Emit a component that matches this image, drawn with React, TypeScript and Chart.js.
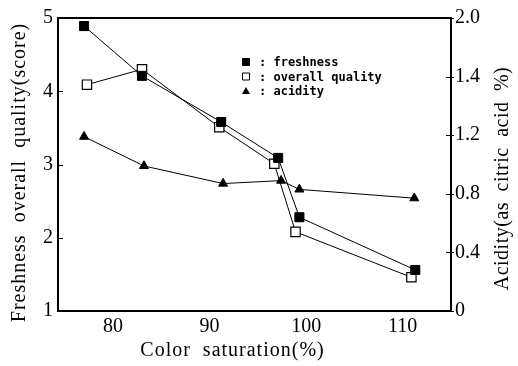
import React, { useEffect, useRef } from "react";
import { Chart, registerables } from "chart.js";

Chart.register(...registerables);

// ---- data ----
const saturationFresh = [77, 83, 91.2, 97.1, 99.3, 111.3];
const freshness = [4.89, 4.21, 3.58, 3.09, 2.28, 1.56];
const saturationQuality = [77.3, 83, 91, 96.7, 98.9, 110.9];
const overallQuality = [4.09, 4.3, 3.51, 3.01, 2.08, 1.46];
const saturationAcid = [77, 83.2, 91.4, 97.4, 99.3, 111.2];
const acidity = [1.19, 0.99, 0.87, 0.89, 0.83, 0.77];

const xTickValues = [80, 90, 100, 110];
const leftTickValues = [1, 2, 3, 4, 5];
const rightTickValues = [0, 0.4, 0.8, 1.2, 1.6, 2.0];
const rightTickLabels = ["0", "0.4", "0.8", "1.2", "1.4", "2.0"];
const seriesLabels = [": freshness", ": overall quality", ": acidity"];

const xTitle = "Color saturation(%)";
const leftTitle = "Freshness overall quality(score)";
const rightTitle = "Acidity(as citric acid %)";

const SERIF = "'Liberation Serif', 'DejaVu Serif', serif";
const MONO = "'DejaVu Sans Mono', 'Liberation Mono', monospace";

function drawTitle(
  ctx: any,
  text: string,
  x: number,
  y: number,
  rot: number,
  letter: number,
  word: number
) {
  ctx.save();
  ctx.translate(x, y);
  ctx.rotate(rot);
  ctx.font = "20px " + SERIF;
  ctx.fillStyle = "#000";
  ctx.textAlign = "center";
  ctx.textBaseline = "middle";
  try {
    ctx.letterSpacing = letter + "px";
    ctx.wordSpacing = word + "px";
  } catch (e) {}
  ctx.fillText(text, 0, 0);
  ctx.restore();
}

const framePlugin = {
  id: "frameAndLegend",
  afterDatasetsDraw(chart: any) {
    const { ctx, chartArea, scales } = chart;
    const { left, right, top, bottom } = chartArea;
    ctx.save();
    ctx.strokeStyle = "#000";
    ctx.lineWidth = 2;
    ctx.strokeRect(left, top, right - left, bottom - top);
    // inward ticks
    ctx.lineWidth = 1;
    ctx.beginPath();
    leftTickValues.forEach((v) => {
      const y = Math.round(scales.y.getPixelForValue(v)) + 0.5;
      ctx.moveTo(left, y);
      ctx.lineTo(left + 5, y);
    });
    rightTickValues.forEach((v) => {
      const y = Math.round(scales.y2.getPixelForValue(v)) + 0.5;
      ctx.moveTo(right - 5, y);
      ctx.lineTo(right + 3, y);
    });
    ctx.stroke();

    // legend inside plot
    const lx = left + 188;
    const ly = top + 44;
    const step = 14.5;
    ctx.font = "bold 12px " + MONO;
    ctx.textBaseline = "middle";
    ctx.textAlign = "left";
    ctx.fillStyle = "#000";
    chart.data.datasets.forEach((ds: any, i: number) => {
      const cy = ly + i * step;
      const cx = lx;
      ctx.beginPath();
      if (ds.pointStyle === "triangle") {
        ctx.moveTo(cx, cy - 4);
        ctx.lineTo(cx + 4, cy + 3);
        ctx.lineTo(cx - 4, cy + 3);
        ctx.closePath();
        ctx.fillStyle = "#000";
        ctx.fill();
      } else {
        ctx.rect(cx - 3.5, cy - 3.5, 7, 7);
        ctx.fillStyle = ds.pointBackgroundColor;
        ctx.fill();
        ctx.lineWidth = 1;
        ctx.strokeStyle = "#000";
        ctx.stroke();
      }
      ctx.fillStyle = "#000";
      ctx.fillText(ds.label, lx + 13, cy + 1);
    });
    ctx.restore();

    // axis titles
    const cxMid = (left + right) / 2;
    drawTitle(ctx, xTitle, cxMid - 22, bottom + 40, 0, 1, 6);
    drawTitle(ctx, leftTitle, 20, (top + bottom) / 2 + 8, -Math.PI / 2, 1, 6);
    drawTitle(ctx, rightTitle, right + 52, (top + bottom) / 2 + 14, -Math.PI / 2, 0.5, 5);
  },
};

export default function App() {
  const ref = useRef<HTMLCanvasElement | null>(null);

  useEffect(() => {
    if (!ref.current) return;
    Chart.defaults.color = "#000";
    const chart = new Chart(ref.current, {
      type: "line",
      data: {
        datasets: [
          {
            label: seriesLabels[0],
            data: saturationFresh.map((x, i) => ({ x, y: freshness[i] })),
            yAxisID: "y",
            borderColor: "#000",
            borderWidth: 1,
            pointStyle: "rect",
            pointRadius: 6.4,
            pointBackgroundColor: "#000",
            pointBorderColor: "#000",
            pointBorderWidth: 1,
            fill: false,
            tension: 0,
          },
          {
            label: seriesLabels[1],
            data: saturationQuality.map((x, i) => ({ x, y: overallQuality[i] })),
            yAxisID: "y",
            borderColor: "#000",
            borderWidth: 1,
            pointStyle: "rect",
            pointRadius: 6.6,
            pointBackgroundColor: "#fff",
            pointBorderColor: "#000",
            pointBorderWidth: 1.2,
            fill: false,
            tension: 0,
          },
          {
            label: seriesLabels[2],
            data: saturationAcid.map((x, i) => ({ x, y: acidity[i] })),
            yAxisID: "y2",
            borderColor: "#000",
            borderWidth: 1,
            pointStyle: "triangle",
            pointRadius: 5.2,
            pointBackgroundColor: "#000",
            pointBorderColor: "#000",
            pointBorderWidth: 1,
            fill: false,
            tension: 0,
          },
        ],
      },
      options: {
        responsive: false,
        animation: false,
        layout: { padding: { top: 18, left: 0, right: 0, bottom: 0 } },
        plugins: {
          legend: { display: false },
          tooltip: { enabled: false },
        },
        scales: {
          x: {
            type: "linear",
            position: "bottom",
            min: 74.3,
            max: 115,
            grid: { display: false, drawTicks: false },
            border: { display: false },
            afterBuildTicks: (scale: any) => {
              scale.ticks = xTickValues.map((v) => ({ value: v }));
            },
            afterFit: (scale: any) => {
              scale.height = 55;
            },
            ticks: {
              font: { family: SERIF, size: 20 },
              color: "#000",
              padding: 4,
              maxRotation: 0,
              callback: (v: any) => String(v),
            },
            title: { display: false },
          },
          y: {
            type: "linear",
            position: "left",
            min: 1,
            max: 5,
            grid: { display: false, drawTicks: false },
            border: { display: false },
            afterBuildTicks: (scale: any) => {
              scale.ticks = leftTickValues.map((v) => ({ value: v }));
            },
            afterFit: (scale: any) => {
              scale.width = 58;
            },
            ticks: {
              font: { family: SERIF, size: 20 },
              color: "#000",
              padding: 5,
              callback: (v: any) => String(v),
            },
            title: { display: false },
          },
          y2: {
            type: "linear",
            position: "right",
            min: 0,
            max: 2,
            grid: { display: false, drawTicks: false },
            border: { display: false },
            afterBuildTicks: (scale: any) => {
              scale.ticks = rightTickValues.map((v) => ({ value: v }));
            },
            afterFit: (scale: any) => {
              scale.width = 67;
            },
            ticks: {
              font: { family: SERIF, size: 20 },
              color: "#000",
              padding: 4,
              callback: (_v: any, i: number) => rightTickLabels[i],
            },
            title: { display: false },
          },
        },
      },
      plugins: [framePlugin],
    } as any);
    return () => chart.destroy();
  }, []);

  return (
    <div style={{ position: "fixed", left: 0, top: 0, width: 518, height: 366, background: "#fff" }}>
      <canvas ref={ref} width={518} height={366} style={{ display: "block" }} />
    </div>
  );
}
